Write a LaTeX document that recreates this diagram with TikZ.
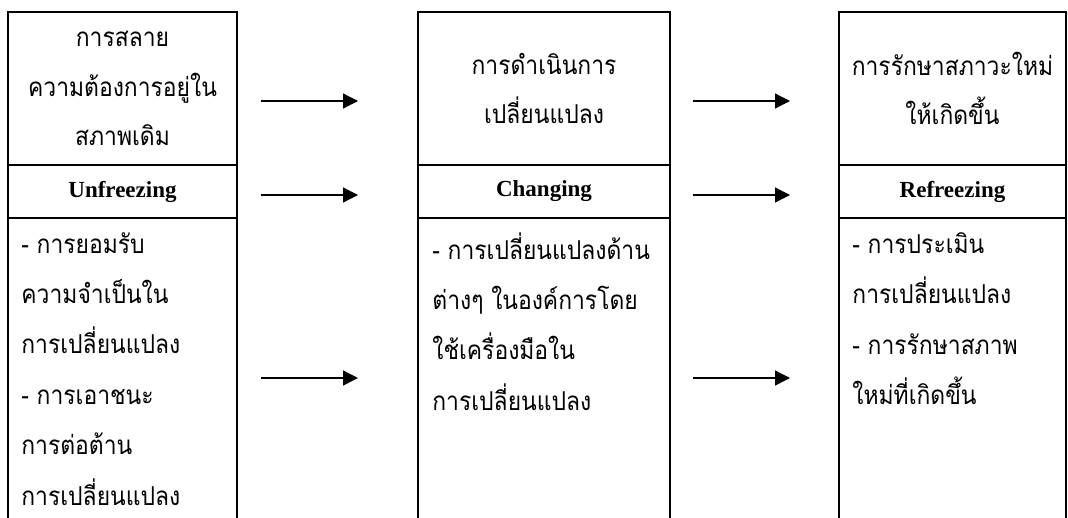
\documentclass[tikz,border=0pt]{standalone}
\usepackage{fontspec}
\setmainfont{Liberation Serif}
\newfontfamily\thaifont[Script=Thai,FakeStretch=0.88]{Loma}
\usetikzlibrary{arrows.meta,positioning}

\begin{document}
\begin{tikzpicture}
		[x=1pt, y=-1pt,
		head/.style ={rectangle, draw=black, line width=1.6pt, minimum width=229pt, minimum height=153pt, align=center, inner sep=0pt,
		font=\thaifont\fontsize{26}{49.5}\selectfont},
		band/.style ={head, minimum height=53pt, font=\bfseries\fontsize{23}{26}\selectfont},
		body/.style ={head, minimum height=330pt},
		bodytext/.style ={anchor=north west, align=left, inner sep=0pt,
		font=\thaifont\fontsize{26}{50.4}\selectfont},
		wide/.style = {minimum width=252pt},
		line/.style ={draw, line width=1.3pt, -{Triangle[length=15pt,width=15pt]}},
		]
		\clip (0,0) rectangle (1068,517);

		% three stages
		\draw (122.5,88.5) node[head] (T1) {การสลาย\\ความต้องการอยู่ใน\\สภาพเดิม};
		\draw (544,88.5) node[head, wide] (T2) {การดำเนินการ\\เปลี่ยนแปลง};
		\draw (952.5,88.5) node[head, minimum width=227pt] (T3) {การรักษาสภาวะใหม่\\ให้เกิดขึ้น};
		\draw (122.5,191.5) node[band] (B1) {Unfreezing};
		\draw (544,191.5) node[band, wide] (B2) {Changing};
		\draw (952.5,191.5) node[band, minimum width=227pt] (B3) {Refreezing};
		\draw (122.5,383) node[body] (L1) {};
		\draw (544,383) node[body, wide] (L2) {};
		\draw (952.5,383) node[body, minimum width=227pt] (L3) {};

		\node[bodytext] (X1) at ([shift={(14,15)}]L1.north west) {- การยอมรับ\\ความจำเป็นใน\\การเปลี่ยนแปลง\\- การเอาชนะ\\การต่อต้าน\\การเปลี่ยนแปลง};
		\node[bodytext] (X2) at ([shift={(15,15)}]L2.north west) {- การเปลี่ยนแปลงด้าน\\ต่างๆ ในองค์การโดย\\ใช้เครื่องมือใน\\การเปลี่ยนแปลง};
		\node[bodytext] (X3) at ([shift={(14,15)}]L3.north west) {- การประเมิน\\การเปลี่ยนแปลง\\- การรักษาสภาพ\\ใหม่ที่เกิดขึ้น};

		% arrow ends
		\coordinate (a1) at (261,101);
		\coordinate (a2) at (358,101);
		\coordinate (a3) at (261,195);
		\coordinate (a4) at (358,195);
		\coordinate (a5) at (261,378);
		\coordinate (a6) at (358,378);
		\coordinate (b1) at (693,101);
		\coordinate (b2) at (790,101);
		\coordinate (b3) at (693,195);
		\coordinate (b4) at (790,195);
		\coordinate (b5) at (693,378);
		\coordinate (b6) at (790,378);

		\path
		(a1) edge[line] (a2)
		(a3) edge[line] (a4)
		(a5) edge[line] (a6)
		(b1) edge[line] (b2)
		(b3) edge[line] (b4)
		(b5) edge[line] (b6);

	\end{tikzpicture}
\end{document}
